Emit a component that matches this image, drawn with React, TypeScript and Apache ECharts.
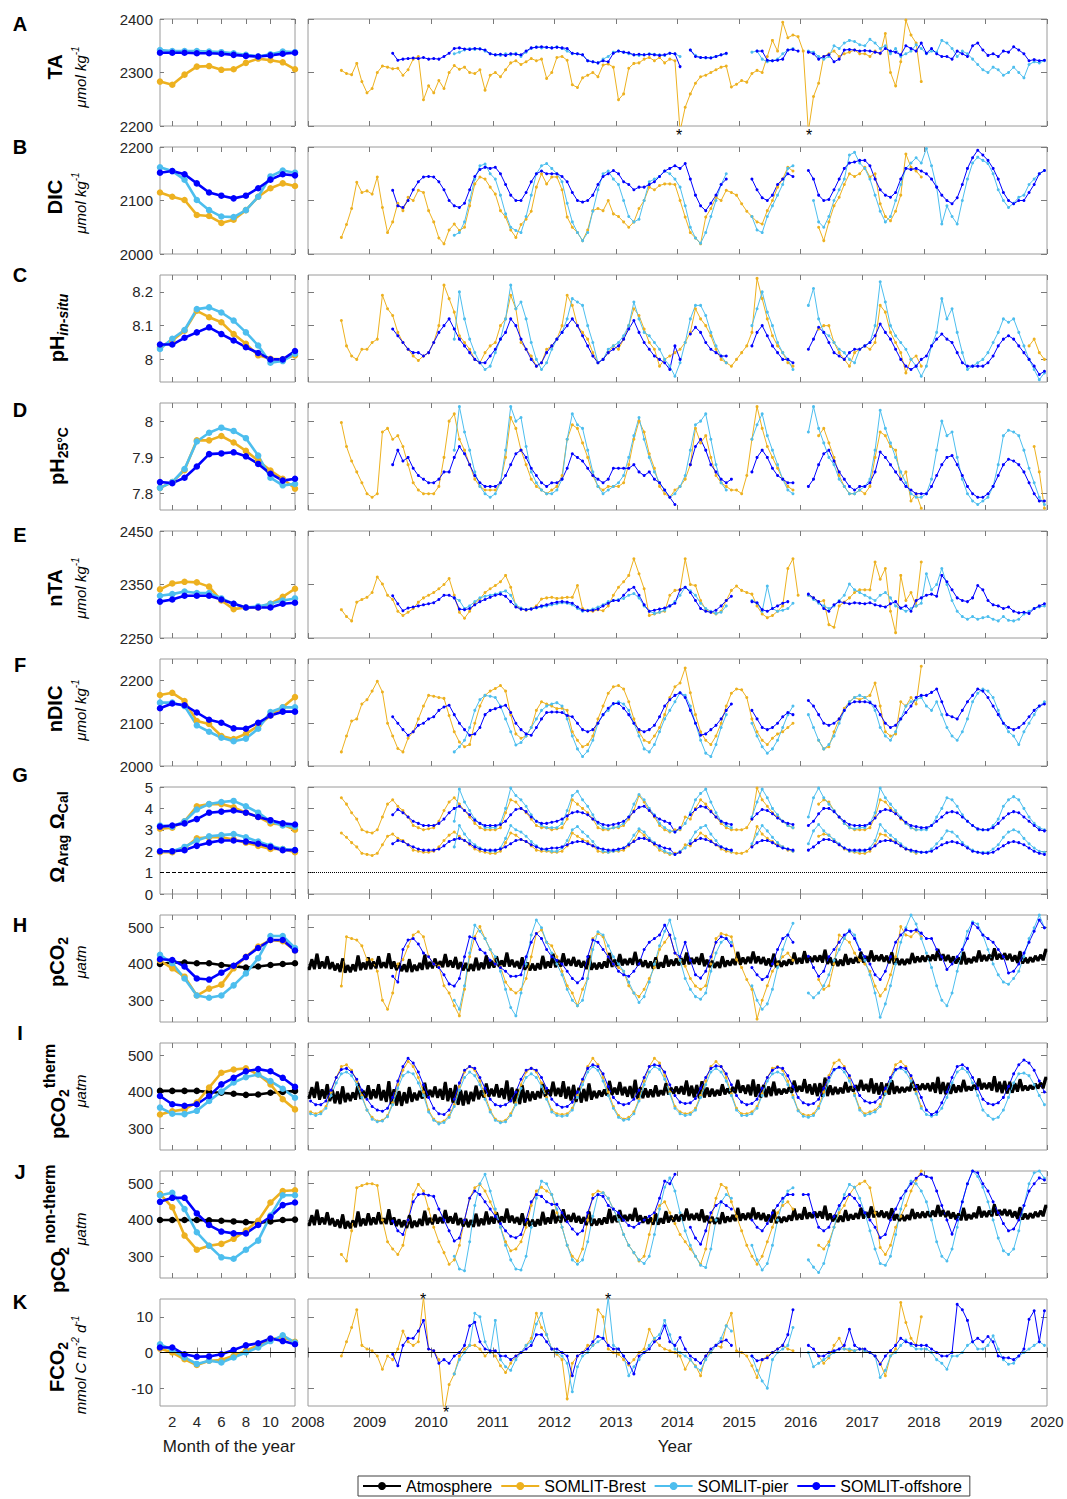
import React, { useEffect, useRef } from "react";
import * as echarts from "echarts";

const _ = null;
const N12 = [_, _, _, _, _, _, _, _, _, _, _, _];

const FONT = "'Liberation Sans', Arial, Helvetica, sans-serif";
const BLACK = "#000000";
const ORANGE = "#EDB120";
const LIGHT = "#4DBEEE";
const BLUE = "#0000FF";
const BOX = "#9a9a9a";
const TICK = "#7a7a7a";

const ATM = "Atmosphere";
const BREST = "SOMLIT-Brest";
const PIER = "SOMLIT-pier";
const OFF = "SOMLIT-offshore";

// x positions
const months = [1, 2, 3, 4, 5, 6, 7, 8, 9, 10, 11, 12];
const monthTicks = [2, 4, 6, 8, 10, 12];
const monthLabels = [2, 4, 6, 8, 10];
const yearTicks = [2008, 2009, 2010, 2011, 2012, 2013, 2014, 2015, 2016, 2017, 2018, 2019, 2020];

// ---------- climatologies (month 1..12) ----------
const taClimBrest = [2283, 2277, 2296, 2311, 2312, 2305, 2306, 2318, 2326, 2323, 2319, 2306];
const taClimPier = [2342, 2340, 2340, 2340, 2339, 2338, 2336, 2333, 2330, 2334, 2339, 2338];
const taClimOff = [2337, 2337, 2337, 2336, 2336, 2335, 2333, 2331, 2330, 2332, 2335, 2337];

const dicClimBrest = [2115, 2107, 2101, 2073, 2071, 2058, 2064, 2082, 2107, 2123, 2132, 2127];
const dicClimPier = [2162, 2155, 2139, 2101, 2082, 2070, 2069, 2082, 2107, 2145, 2156, 2152];
const dicClimOff = [2152, 2155, 2149, 2132, 2115, 2109, 2104, 2109, 2123, 2139, 2149, 2147];

const phClimBrest = [8.036, 8.056, 8.085, 8.144, 8.125, 8.11, 8.075, 8.046, 8.012, 8.002, 8.0, 8.012];
const phClimPier = [8.031, 8.061, 8.087, 8.149, 8.154, 8.139, 8.115, 8.08, 8.041, 7.99, 7.995, 8.017];
const phClimOff = [8.044, 8.044, 8.064, 8.08, 8.095, 8.075, 8.056, 8.036, 8.019, 8.0, 8.0, 8.025];

const p25ClimBrest = [7.816, 7.832, 7.865, 7.947, 7.947, 7.959, 7.941, 7.918, 7.891, 7.864, 7.841, 7.814];
const p25ClimPier = [7.816, 7.832, 7.868, 7.944, 7.968, 7.982, 7.973, 7.953, 7.905, 7.844, 7.823, 7.827];
const p25ClimOff = [7.832, 7.829, 7.844, 7.875, 7.909, 7.911, 7.914, 7.903, 7.882, 7.855, 7.836, 7.841];

const ntaClimBrest = [2341, 2352, 2355, 2354, 2346, 2320, 2304, 2307, 2307, 2314, 2327, 2342];
const ntaClimPier = [2329, 2332, 2337, 2334, 2334, 2324, 2314, 2307, 2309, 2314, 2320, 2324];
const ntaClimOff = [2318, 2322, 2329, 2329, 2329, 2322, 2314, 2307, 2307, 2307, 2314, 2316];

const ndicClimBrest = [2166, 2171, 2152, 2105, 2098, 2070, 2063, 2075, 2094, 2118, 2137, 2161];
const ndicClimPier = [2148, 2148, 2140, 2095, 2080, 2066, 2058, 2064, 2087, 2126, 2137, 2137];
const ndicClimOff = [2135, 2146, 2142, 2125, 2108, 2101, 2088, 2087, 2101, 2118, 2127, 2127];

const calClimBrest = [3.05, 3.1, 3.4, 4.1, 4.2, 4.2, 4.05, 3.8, 3.6, 3.3, 3.25, 3.0];
const calClimPier = [3.2, 3.15, 3.4, 3.95, 4.2, 4.3, 4.35, 4.1, 3.8, 3.4, 3.2, 3.15];
const calClimOff = [3.15, 3.2, 3.3, 3.5, 3.8, 3.85, 3.9, 3.8, 3.6, 3.45, 3.3, 3.25];
const aragClimBrest = [1.95, 1.95, 2.15, 2.6, 2.65, 2.65, 2.55, 2.4, 2.25, 2.1, 2.1, 1.95];
const aragClimPier = [2.0, 2.0, 2.2, 2.5, 2.7, 2.75, 2.8, 2.65, 2.45, 2.25, 2.1, 2.05];
const aragClimOff = [2.0, 2.0, 2.05, 2.25, 2.4, 2.5, 2.5, 2.45, 2.35, 2.2, 2.05, 2.05];

const pco2ClimAtm = [400, 404, 404, 402, 402, 397, 394, 390, 393, 397, 400, 402];
const pco2ClimBrest = [409, 388, 365, 313, 332, 343, 388, 420, 448, 466, 463, 437];
const pco2ClimPier = [425, 402, 360, 313, 307, 313, 341, 374, 416, 477, 477, 444];
const pco2ClimOff = [413, 411, 393, 360, 357, 376, 395, 419, 444, 466, 466, 437];

const thClimAtm = [403, 403, 403, 403, 400, 398, 395, 392, 393, 398, 400, 403];
const thClimBrest = [338, 347, 352, 371, 412, 453, 462, 465, 448, 421, 380, 352];
const thClimPier = [357, 340, 339, 348, 375, 401, 426, 441, 448, 430, 409, 384];
const thClimOff = [389, 366, 362, 366, 389, 421, 439, 457, 463, 457, 439, 414];

const ntClimAtm = [400, 400, 400, 400, 399, 398, 396, 394, 392, 396, 400, 401];
const ntClimBrest = [472, 435, 357, 318, 329, 334, 348, 371, 398, 448, 480, 482];
const ntClimPier = [468, 475, 430, 366, 329, 297, 293, 318, 343, 412, 468, 468];
const ntClimOff = [450, 461, 461, 418, 386, 368, 363, 363, 386, 409, 441, 448];

const fClimBrest = [1.1, 0, -1.9, -3.5, -2.3, -2.1, -0.9, 0.5, 2.0, 3.7, 4.2, 3.0];
const fClimPier = [2.3, 0.7, -1.4, -3.2, -2.3, -2.8, -1.4, 0, 1.4, 3.2, 4.8, 2.8];
const fClimOff = [1.4, 1.4, -0.5, -1.2, -1.1, -0.5, 0.7, 2.0, 2.6, 3.9, 3.2, 2.3];

// ---------- monthly time series, Jan 2008 .. Dec 2019 ----------
// A: TA
const taBrest = [
  _, _, _, _, _, _, 2304, 2298, 2296, 2317, 2283, 2262,
  2270, 2300, 2312, 2310, 2307, 2308, 2295, 2305, 2325, 2330, 2249, 2275,
  2262, 2285, 2270, 2300, 2313, 2306, 2310, 2300, 2298, 2305, 2267, 2295,
  2300, 2292, 2305, 2318, 2322, 2315, 2320, 2326, 2322, 2325, 2289, 2300,
  2328, 2330, 2323, 2277, 2272, 2290, 2295, 2300, 2292, 2314, 2316, 2310,
  2249, 2260, 2308, 2317, 2318, 2325, 2328, 2322, 2328, 2318, 2325, 2322,
  2190, 2235, 2260, 2280, 2292, 2295, 2300, 2305, 2310, 2312, 2273, 2278,
  2285, 2282, 2298, 2304, 2300, 2330, 2360, 2340, 2394, 2365, 2370, 2367,
  2340, 2190, 2255, 2280, 2330, 2335, 2340, 2330, 2335, 2338, 2342, 2335,
  2335, 2330, 2340, 2335, 2373, 2300, 2275, 2320, 2398, 2370, 2355, 2283,
  ...N12,
  ...N12,
];
const taPier = [
  ...N12,
  ...N12,
  _, _, _, _, 2335, 2338, 2342, 2345, 2343, 2345, 2340, 2335,
  2333, 2332, 2335, 2333, 2336, 2330, 2338, 2345, 2348, 2346, 2347, 2346,
  2348, 2345, 2340, 2335, 2335, 2333, 2322, 2320, 2318, 2325, 2330, 2338,
  2340, 2338, 2335, 2333, 2332, 2333, 2335, 2334, 2333, 2332, 2336, 2335,
  2330, _, 2342, 2332, 2328, 2327, 2328, 2330, 2333, 2335, _, _,
  _, _, 2338, 2340, 2325, 2320, 2322, 2325, 2335, 2342, 2345, _,
  _, 2340, 2338, 2330, 2325, 2330, 2350, 2345, 2355, 2360, 2358, 2352,
  2350, 2362, 2355, 2345, 2350, 2335, 2345, 2330, 2335, 2340, 2352, 2345,
  2335, 2340, 2338, 2360, 2355, 2345, 2330, 2340, 2335, 2325, 2315, 2305,
  2300, 2310, 2305, 2295, 2300, 2310, 2300, 2290, 2315, 2320, 2318, 2322,
];
const taOff = [
  ...N12,
  _, _, _, _, 2336, 2323, 2325, 2326, 2327, 2326, 2328, 2325,
  2326, 2325, 2330, 2336, 2345, 2346, 2344, 2343, 2345, 2344, 2342, 2335,
  2333, 2334, 2332, 2335, 2334, 2333, 2340, 2346, 2347, 2348, 2347, 2346,
  2347, 2346, 2345, 2336, 2335, 2333, 2322, 2320, 2318, 2322, 2320, 2336,
  2340, 2338, 2337, 2333, 2334, 2333, 2334, 2333, 2332, 2333, 2336, 2335,
  2311, _, 2342, 2330, 2328, 2328, 2327, 2330, 2333, 2336, _, _,
  _, _, _, 2340, 2340, 2323, 2322, 2323, 2325, 2342, 2343, 2340,
  _, 2338, 2335, 2325, 2330, 2333, 2320, 2325, 2342, 2343, 2342, 2340,
  2341, 2340, 2338, 2336, 2345, 2340, 2338, 2333, 2350, 2345, 2340, 2355,
  2336, 2345, 2335, 2330, 2330, 2325, 2340, 2335, 2330, 2350, 2355, 2342,
  2332, 2335, 2330, 2340, 2338, 2348, 2342, 2335, 2322, 2324, 2322, 2323,
];

// B: DIC
const dicBrest = [
  _, _, _, _, _, _, 2031, 2055, 2085, 2134, 2115, 2118,
  2112, 2144, 2087, 2040, 2060, 2095, 2081, 2106, 2100, 2119, 2115, 2081,
  2060, 2030, 2019, 2045, 2056, 2044, 2050, 2090, 2131, 2144, 2140, 2125,
  2112, 2081, 2069, 2045, 2031, 2055, 2065, 2080, 2125, 2150, 2131, 2144,
  2144, 2120, 2069, 2050, 2040, 2025, 2045, 2081, 2085, 2081, 2100, 2075,
  2070, 2060, 2050, 2060, 2085, 2100, 2125, 2120, 2128, 2131, 2131, 2130,
  2100, 2069, 2040, 2030, 2019, 2069, 2085, 2106, 2100, 2119, 2115, 2110,
  2094, 2080, 2070, 2060, 2056, 2081, 2100, 2125, 2140, 2162, 2155, _,
  _, _, _, 2050, 2025, 2060, 2090, 2106, 2130, 2150, 2145, 2150,
  2162, 2144, 2150, 2094, 2070, 2062, 2080, 2110, 2187, 2162, 2155, 2144,
  ...N12,
  ...N12,
];
const dicPier = [
  ...N12,
  ...N12,
  _, _, _, _, 2035, 2040, 2060, 2100, 2140, 2165, 2168, 2150,
  2140, 2110, 2075, 2050, 2044, 2040, 2070, 2110, 2150, 2165, 2169, 2160,
  2150, 2135, 2095, 2060, 2040, 2025, 2040, 2080, 2120, 2150, 2155, 2140,
  2130, 2100, 2070, 2060, 2065, 2100, 2135, 2140, 2145, 2155, 2150, 2140,
  2125, 2090, 2050, 2030, 2020, 2040, 2070, 2100, 2130, 2150, _, _,
  _, _, 2070, 2045, 2040, 2070, 2090, 2110, 2130, 2160, 2165, _,
  _, _, 2100, 2060, 2050, 2070, 2100, 2120, 2140, 2185, 2190, 2170,
  2160, 2140, 2110, 2080, 2060, 2070, 2100, 2130, 2160, 2170, 2180, 2170,
  2197, 2165, 2125, 2056, 2090, 2070, 2056, 2100, 2140, 2170, 2181, 2175,
  2169, 2150, 2120, 2100, 2087, 2095, 2106, 2110, 2130, 2140, 2150, 2156,
];
const dicOff = [
  ...N12,
  _, _, _, _, 2119, 2090, 2087, 2100, 2120, 2135, 2144, 2145,
  2144, 2135, 2120, 2100, 2090, 2087, 2095, 2120, 2145, 2158, 2162, 2160,
  2162, 2150, 2130, 2110, 2100, 2100, 2115, 2135, 2150, 2155, 2150, 2150,
  2150, 2145, 2135, 2115, 2100, 2097, 2100, 2110, 2130, 2145, 2150, 2156,
  2150, 2135, 2130, 2120, 2125, 2125, 2130, 2135, 2145, 2155, 2160, 2165,
  2160, 2169, 2140, 2110, 2090, 2081, 2095, 2110, 2130, 2140, _, _,
  _, _, 2140, 2120, 2105, 2100, 2110, 2130, 2140, 2150, 2145, _,
  _, 2156, 2140, 2110, 2100, 2102, 2120, 2140, 2160, 2170, 2172, 2175,
  2175, 2165, 2140, 2120, 2110, 2106, 2115, 2140, 2160, 2158, 2160, 2155,
  2150, 2140, 2125, 2110, 2100, 2094, 2105, 2130, 2160, 2180, 2194, 2185,
  2175, 2160, 2140, 2115, 2100, 2094, 2100, 2100, 2115, 2130, 2150, 2156,
];

// C: pH in situ
const phBrest = [
  _, _, _, _, _, _, 8.115, 8.04, 8.01, 8.0, 8.03, 8.03,
  8.05, 8.06, 8.19, 8.15, 8.13, 8.08, 8.05, 8.03, 8.01, 7.997, 8.01, 8.02,
  8.05, 8.1, 8.22, 8.18, 8.14, 8.07, 8.05, 8.03, 8.0, 7.99, 8.02, 8.04,
  8.05, 8.1, 8.12, 8.19, 8.15, 8.05, 8.03, 8.01, 7.98, 7.99, 8.03, 8.04,
  8.06, 8.1, 8.19, 8.16, 8.1, 8.08, 8.06, 8.02, 7.99, 8.0, 8.02, 8.04,
  8.03, 8.06, 8.1, 8.15, 8.13, 8.09, 8.05, 8.03, 7.98, 8.0, 8.01, 8.02,
  8.03, 8.05, 8.08, 8.15, 8.12, 8.1, 8.07, 8.03, 8.0, 7.99, 7.98, 8.0,
  8.02, 8.04, 8.08, 8.24, 8.18, 8.12, 8.07, 8.04, 8.02, 7.99, 7.98, _,
  _, _, _, 8.09, 8.1, 8.1, 8.05, 8.02, 8.0, 7.98, 8.02, 8.03,
  8.04, 8.03, 8.05, 8.16, 8.14, 8.08, 8.05, 8.02, 7.96, 8.0, 8.01, 7.98,
  ...N12,
  _, _, _, _, _, _, _, _, 8.04, 8.06, 8.02, 8.0,
];
const phPier = [
  ...N12,
  ...N12,
  _, _, _, _, 8.06, 8.2, 8.12, 8.06, 8.02, 7.99, 7.97, 7.98,
  8.02, 8.06, 8.12, 8.22, 8.15, 8.17, 8.12, 8.05, 8.0, 7.97, 7.99, 8.03,
  8.06, 8.08, 8.12, 8.18, 8.17, 8.16, 8.1, 8.05, 7.99, 8.0, 8.03, 8.04,
  8.05, 8.07, 8.1, 8.17, 8.12, 8.08, 8.07, 8.05, 8.03, 8.0, 7.98, 7.95,
  7.99, 8.05, 8.12, 8.16, 8.16, 8.13, 8.08, 8.04, 8.01, 7.99, _, _,
  _, _, 8.1, 8.15, 8.2, 8.14, 8.1, 8.05, 8.02, 8.0, 7.97, _,
  _, 8.16, 8.21, 8.12, 8.08, 8.07, 8.05, 8.03, 8.02, 8.0, 7.99, 8.03,
  8.04, 8.05, 8.1, 8.23, 8.17, 8.1, 8.07, 8.05, 8.03, 8.0, 7.98, 7.95,
  7.98, 8.04, 8.08, 8.18, 8.12, 8.15, 8.08, 8.02, 7.97, 7.98, 7.99, 8.0,
  8.02, 8.05, 8.08, 8.12, 8.11, 8.12, 8.08, 8.04, 8.0, 7.97, 7.94, 7.96,
];
const phOff = [
  ...N12,
  _, _, _, _, 8.09, 8.07, 8.05, 8.03, 8.02, 8.02, 8.01, 8.02,
  8.05, 8.08, 8.1, 8.12, 8.09, 8.06, 8.04, 8.02, 8.0, 7.99, 7.99, 8.01,
  8.03, 8.06, 8.08, 8.12, 8.1, 8.06, 8.03, 8.0, 7.98, 7.99, 8.02, 8.04,
  8.06, 8.08, 8.1, 8.12, 8.1, 8.07, 8.04, 8.01, 7.99, 8.0, 8.02, 8.03,
  8.04, 8.06, 8.09, 8.115, 8.08, 8.05, 8.03, 8.01, 8.0, 7.99, 7.97, 8.04,
  8.0, _, 8.075, 8.095, 8.08, 8.05, 8.03, 8.02, 8.01, 8.01, _, _,
  _, _, 8.04, 8.08, 8.1, 8.07, 8.04, 8.02, 8.0, 8.0, 7.99, _,
  _, 8.03, 8.06, 8.095, 8.08, 8.05, 8.02, 8.01, 8.0, 8.02, 8.03, 8.03,
  8.04, 8.05, 8.07, 8.105, 8.08, 8.06, 8.03, 8.0, 7.98, 7.97, 7.98, 8.0,
  8.01, 8.04, 8.06, 8.075, 8.06, 8.05, 8.02, 7.99, 7.98, 7.98, 7.98, 7.98,
  7.99, 8.01, 8.04, 8.06, 8.07, 8.06, 8.04, 8.02, 8.0, 7.98, 7.955, 7.965,
];

// D: pH at 25 °C
const p25Brest = [
  _, _, _, _, _, _, 7.996, 7.93, 7.89, 7.86, 7.83, 7.8,
  7.79, 7.8, 7.97, 7.98, 7.95, 7.96, 7.93, 7.88, 7.83, 7.81, 7.8, 7.8,
  7.8, 7.82, 7.9, 8.0, 8.02, 7.95, 7.92, 7.88, 7.84, 7.82, 7.81, 7.81,
  7.81, 7.83, 7.9, 8.01, 7.98, 7.92, 7.88, 7.84, 7.82, 7.81, 7.8, 7.81,
  7.82, 7.85, 7.95, 7.99, 7.98, 7.94, 7.9, 7.85, 7.82, 7.81, 7.82, 7.82,
  7.82, 7.83, 7.88, 7.95, 8.0, 7.97, 7.91, 7.87, 7.82, 7.8, 7.79, 7.81,
  7.82, 7.84, 7.88, 7.98, 7.94, 7.96, 7.9, 7.85, 7.83, 7.82, 7.81, 7.81,
  7.8, 7.85, 7.95, 8.04, 7.98, 7.93, 7.9, 7.87, 7.84, 7.82, 7.81, _,
  _, _, _, 7.96, 7.98, 7.94, 7.9, 7.85, 7.82, 7.8, 7.8, 7.81,
  7.8, 7.82, 7.9, 7.97, 7.96, 7.93, 7.92, 7.84, 7.86, 7.78, 7.8, 7.76,
  ...N12,
  _, _, _, _, _, _, _, _, _, 7.93, 7.86, 7.76,
];
const p25Pier = [
  ...N12,
  ...N12,
  _, _, _, _, 7.92, 8.04, 7.97, 7.92, 7.86, 7.82, 7.8, 7.79,
  7.8, 7.83, 7.92, 8.04, 8.0, 8.01, 7.93, 7.86, 7.83, 7.81, 7.8, 7.8,
  7.81, 7.84, 7.95, 8.02, 7.99, 7.98, 7.92, 7.86, 7.82, 7.8, 7.81, 7.82,
  7.83, 7.85, 7.9, 7.96, 8.01, 7.95, 7.9, 7.86, 7.83, 7.81, 7.79, 7.8,
  7.82, 7.85, 7.92, 7.99, 8.0, 8.02, 7.95, 7.88, 7.83, 7.81, _, _,
  _, _, 7.95, 7.99, 8.02, 7.96, 7.92, 7.88, 7.84, 7.81, 7.8, _,
  _, 7.97, 8.04, 7.98, 7.94, 7.9, 7.88, 7.84, 7.82, 7.8, 7.8, 7.81,
  7.82, 7.84, 7.92, 8.03, 7.98, 7.94, 7.9, 7.86, 7.83, 7.8, 7.79, 7.79,
  7.8, 7.84, 7.92, 8.0, 7.96, 7.97, 7.9, 7.84, 7.8, 7.78, 7.77, 7.78,
  7.79, 7.82, 7.88, 7.96, 7.975, 7.97, 7.96, 7.92, 7.87, 7.83, 7.79, 7.77,
];
const p25Off = [
  ...N12,
  _, _, _, _, 7.88, 7.92, 7.89, 7.9, 7.87, 7.85, 7.84, 7.83,
  7.83, 7.84, 7.86, 7.86, 7.9, 7.93, 7.91, 7.88, 7.85, 7.83, 7.82, 7.82,
  7.82, 7.83, 7.85, 7.88, 7.91, 7.92, 7.9, 7.87, 7.85, 7.83, 7.82, 7.83,
  7.83, 7.84, 7.87, 7.91, 7.9, 7.89, 7.87, 7.85, 7.84, 7.83, 7.84, 7.87,
  7.87, 7.87, 7.87, 7.88, 7.86, 7.85, 7.86, 7.84, 7.83, 7.81, 7.79, 7.77,
  _, _, 7.88, 7.93, 7.95, 7.92, 7.88, 7.86, 7.84, 7.83, 7.84, _,
  _, _, 7.86, 7.9, 7.92, 7.9, 7.87, 7.85, 7.84, 7.83, 7.83, _,
  _, 7.82, 7.84, 7.88, 7.91, 7.92, 7.89, 7.86, 7.84, 7.82, 7.81, 7.82,
  7.82, 7.83, 7.86, 7.915, 7.9, 7.88, 7.86, 7.84, 7.82, 7.81, 7.8, 7.8,
  7.8, 7.82, 7.85, 7.88, 7.9, 7.905, 7.88, 7.85, 7.82, 7.8, 7.79, 7.79,
  7.8, 7.82, 7.85, 7.88, 7.895, 7.89, 7.88, 7.86, 7.83, 7.8, 7.78, 7.78,
];

// E: nTA
const ntaBrest = [
  _, _, _, _, _, _, 2303, 2290, 2282, 2317, 2322, 2326,
  2335, 2364, 2351, 2330, 2322, 2300, 2292, 2298, 2305, 2317, 2325, 2330,
  2335, 2342, 2350, 2361, 2330, 2298, 2287, 2300, 2315, 2323, 2335, 2342,
  2348, 2355, 2367, 2345, 2310, 2305, 2302, 2305, 2310, 2323, 2325, 2326,
  2324, 2325, 2326, 2326, 2348, 2305, 2301, 2300, 2303, 2301, 2310, 2330,
  2345, 2355, 2367, 2398, 2370, 2342, 2292, 2295, 2298, 2300, 2330, 2339,
  2340, 2398, 2350, 2348, 2320, 2303, 2298, 2295, 2300, 2320, 2339, 2347,
  2339, 2335, 2332, 2310, 2295, 2288, 2292, 2300, 2310, 2380, 2398, 2330,
  _, 2330, 2325, 2317, 2320, 2275, 2270, 2310, 2317, 2325, 2335, 2340,
  2340, 2340, 2392, 2360, 2380, 2300, 2260, 2367, 2320, 2335, 2310, 2392,
  ...N12,
  ...N12,
];
const ntaPier = [
  ...N12,
  ...N12,
  _, _, _, _, 2325, 2320, 2305, 2310, 2318, 2325, 2328, 2330,
  2332, 2335, 2338, 2330, 2312, 2306, 2303, 2305, 2306, 2308, 2310, 2312,
  2314, 2316, 2315, 2312, 2305, 2300, 2302, 2304, 2308, 2312, 2318, 2320,
  2322, 2324, 2330, 2333, 2325, 2310, 2300, 2296, 2298, 2302, 2310, 2318,
  2330, 2345, 2338, 2330, 2315, 2305, 2300, 2296, 2298, 2310, _, _,
  _, _, 2320, 2315, 2300, 2347, 2305, 2300, 2302, 2305, 2315, _,
  _, 2330, 2322, 2315, 2310, 2305, 2310, 2320, 2330, 2351, 2340, 2335,
  2330, 2325, 2320, 2330, 2335, 2325, 2310, 2305, 2300, 2305, 2310, 2315,
  2370, 2340, 2350, 2380, 2350, 2320, 2300, 2290, 2285, 2290, 2285, 2288,
  2290, 2285, 2282, 2290, 2283, 2282, 2285, 2295, 2300, 2305, 2308, 2310,
];
const ntaOff = [
  ...N12,
  _, _, _, _, 2329, 2314, 2301, 2306, 2308, 2310, 2312, 2314,
  2316, 2322, 2330, 2330, 2325, 2304, 2303, 2305, 2312, 2318, 2322, 2326,
  2330, 2332, 2328, 2318, 2308, 2304, 2303, 2304, 2307, 2310, 2312, 2315,
  2317, 2318, 2317, 2315, 2308, 2302, 2301, 2302, 2304, 2310, 2315, 2320,
  2320, 2330, 2340, 2345, 2330, 2312, 2300, 2302, 2304, 2306, 2310, 2315,
  2340, 2345, 2335, 2320, 2305, 2300, 2298, 2302, 2310, 2320, 2328, _,
  _, _, 2318, 2316, 2303, 2300, 2305, 2310, 2315, 2318, _, _,
  _, 2332, 2325, 2318, 2305, 2300, 2312, 2318, 2316, 2314, 2316, 2315,
  2314, 2316, 2312, 2310, 2308, 2314, 2318, 2306, 2310, 2300, 2320, 2325,
  2330, 2332, 2328, 2367, 2355, 2340, 2325, 2320, 2318, 2325, 2348, 2340,
  2320, 2312, 2310, 2305, 2308, 2300, 2297, 2298, 2296, 2305, 2310, 2314,
];

// F: nDIC
const ndicBrest = [
  _, _, _, _, _, _, 2033, 2070, 2105, 2110, 2145, 2155,
  2175, 2198, 2173, 2100, 2070, 2041, 2033, 2065, 2080, 2110, 2140, 2165,
  2163, 2160, 2158, 2118, 2080, 2056, 2045, 2050, 2100, 2140, 2165, 2175,
  2181, 2188, 2175, 2120, 2075, 2065, 2070, 2090, 2130, 2150, 2145, 2140,
  2134, 2135, 2130, 2080, 2060, 2045, 2050, 2070, 2110, 2140, 2170, 2185,
  2188, 2180, 2150, 2110, 2080, 2060, 2055, 2070, 2090, 2120, 2160, 2185,
  2194, 2229, 2171, 2120, 2080, 2060, 2050, 2070, 2100, 2140, 2170, 2180,
  2178, 2160, 2110, 2080, 2060, 2050, 2065, 2075, 2080, 2090, 2100, _,
  _, _, _, 2060, 2040, 2045, 2080, 2110, 2135, 2150, 2160, 2155,
  2160, 2165, 2194, 2140, 2080, 2070, 2075, 2150, 2140, 2160, 2145, 2233,
  ...N12,
  ...N12,
];
const ndicPier = [
  ...N12,
  ...N12,
  _, _, _, _, 2033, 2045, 2060, 2090, 2130, 2155, 2165, 2163,
  2160, 2140, 2110, 2080, 2049, 2055, 2070, 2090, 2110, 2130, 2140, 2145,
  2148, 2140, 2110, 2070, 2040, 2022, 2035, 2060, 2100, 2120, 2130, 2145,
  2150, 2145, 2130, 2100, 2070, 2040, 2033, 2050, 2080, 2110, 2130, 2150,
  2171, 2165, 2140, 2100, 2060, 2030, 2022, 2050, 2090, 2120, _, _,
  _, _, 2100, 2070, 2045, 2030, 2040, 2060, 2090, 2120, 2140, _,
  _, 2120, 2090, 2060, 2040, 2050, 2070, 2100, 2130, 2150, 2160, 2165,
  2160, 2150, 2130, 2090, 2070, 2060, 2080, 2110, 2140, 2150, 2155, 2160,
  2140, 2130, 2150, 2120, 2090, 2070, 2060, 2080, 2110, 2150, 2170, 2180,
  2175, 2160, 2130, 2100, 2080, 2070, 2050, 2080, 2100, 2120, 2140, 2150,
];
const ndicOff = [
  ...N12,
  _, _, _, _, 2115, 2100, 2085, 2072, 2080, 2095, 2100, 2110,
  2115, 2130, 2138, 2142, 2120, 2100, 2085, 2072, 2075, 2090, 2120, 2130,
  2134, 2138, 2142, 2125, 2100, 2085, 2075, 2072, 2090, 2110, 2125, 2126,
  2126, 2125, 2118, 2115, 2100, 2085, 2080, 2085, 2100, 2120, 2135, 2146,
  2146, 2135, 2120, 2100, 2085, 2080, 2085, 2095, 2115, 2140, 2155, 2165,
  2171, 2160, 2130, 2100, 2072, 2075, 2085, 2095, 2110, 2130, 2145, _,
  _, _, 2130, 2110, 2090, 2085, 2090, 2100, 2115, 2125, 2120, _,
  _, 2153, 2140, 2120, 2100, 2095, 2100, 2110, 2130, 2145, 2150, 2150,
  2150, 2148, 2140, 2120, 2100, 2090, 2095, 2110, 2125, 2140, 2160, 2165,
  2165, 2172, 2180, 2150, 2120, 2115, 2110, 2130, 2150, 2165, 2180, 2175,
  2160, 2140, 2120, 2100, 2090, 2085, 2090, 2100, 2115, 2130, 2140, 2145,
];

// G: saturation states (calcite upper band, aragonite lower band)
const calBrest = [
  _, _, _, _, _, _, 4.5, 4.2, 3.8, 3.5, 3.0, 2.9,
  2.85, 3.0, 3.6, 4.2, 4.4, 4.1, 3.9, 3.6, 3.2, 3.1, 3.0, 3.05,
  3.1, 3.4, 3.9, 4.3, 4.5, 4.2, 3.9, 3.6, 3.3, 3.1, 3.0, 3.0,
  3.0, 3.1, 3.8, 4.4, 4.3, 4.0, 3.8, 3.5, 3.2, 3.1, 3.1, 3.0,
  3.05, 3.1, 3.5, 4.4, 4.2, 4.0, 3.8, 3.5, 3.1, 3.0, 3.0, 3.1,
  3.1, 3.2, 3.5, 3.9, 4.6, 4.3, 3.9, 3.6, 3.2, 3.0, 2.9, 3.0,
  3.0, 3.6, 3.5, 4.0, 4.4, 4.2, 3.9, 3.6, 3.3, 3.1, 3.0, 3.0,
  3.0, 3.1, 3.5, 4.95, 4.4, 4.1, 3.8, 3.6, 3.4, 3.2, 3.1, _,
  _, _, _, 4.2, 4.4, 4.3, 3.9, 3.6, 3.3, 3.1, 3.0, 3.0,
  3.0, 3.1, 3.6, 4.4, 4.3, 4.0, 3.8, 3.5, 3.3, 3.1, 3.0, _,
  ...N12,
  ...N12,
];
const calPier = [
  ...N12,
  ...N12,
  _, _, _, _, 3.4, 4.9, 4.3, 3.9, 3.5, 3.3, 3.1, 3.1,
  3.1, 3.3, 4.0, 4.95, 4.6, 4.4, 4.1, 3.7, 3.4, 3.2, 3.1, 3.1,
  3.1, 3.3, 3.9, 4.6, 4.8, 4.4, 4.1, 3.7, 3.3, 3.1, 3.05, 3.1,
  3.15, 3.3, 3.6, 4.2, 4.65, 4.4, 4.0, 3.7, 3.3, 3.1, 2.95, 2.9,
  3.05, 3.3, 3.8, 4.4, 4.7, 4.9, 4.3, 3.8, 3.4, 3.2, 3.1, _,
  _, _, 3.6, 4.3, 4.9, 4.5, 4.0, 3.7, 3.4, 3.2, 3.1, _,
  _, 3.6, 4.5, 4.95, 4.5, 4.2, 3.9, 3.6, 3.3, 3.1, 3.05, 3.1,
  3.1, 3.3, 3.8, 4.95, 4.5, 4.2, 3.9, 3.6, 3.3, 3.1, 3.0, 3.0,
  3.0, 3.2, 3.6, 4.0, 4.5, 4.4, 4.1, 3.7, 3.4, 3.2, 3.0, 3.0,
  3.0, 3.2, 3.5, 4.1, 4.4, 4.55, 4.4, 4.0, 3.6, 3.3, 3.1, 3.0,
];
const calOff = [
  ...N12,
  _, _, _, _, 3.7, 3.95, 3.8, 3.6, 3.4, 3.3, 3.2, 3.2,
  3.2, 3.3, 3.5, 3.8, 4.0, 4.1, 3.9, 3.7, 3.45, 3.3, 3.2, 3.2,
  3.2, 3.25, 3.4, 3.7, 3.95, 4.0, 3.85, 3.6, 3.4, 3.3, 3.3, 3.35,
  3.4, 3.5, 3.65, 3.8, 3.85, 3.8, 3.7, 3.5, 3.35, 3.25, 3.2, 3.25,
  3.3, 3.4, 3.6, 3.85, 4.05, 4.1, 3.9, 3.65, 3.5, 3.4, 3.3, 2.9,
  3.1, _, 3.7, 3.95, 4.1, 4.05, 3.85, 3.6, 3.4, 3.3, 3.25, _,
  _, _, 3.5, 3.75, 3.95, 3.9, 3.75, 3.55, 3.4, 3.3, 3.25, _,
  _, 3.2, 3.4, 3.75, 4.0, 4.0, 3.85, 3.6, 3.4, 3.25, 3.2, 3.2,
  3.2, 3.3, 3.55, 3.85, 3.95, 3.9, 3.75, 3.55, 3.35, 3.2, 3.15, 3.1,
  3.1, 3.2, 3.4, 3.6, 3.8, 3.85, 3.8, 3.6, 3.4, 3.2, 3.05, 3.0,
  3.0, 3.1, 3.3, 3.55, 3.75, 3.85, 3.8, 3.6, 3.4, 3.2, 3.0, 2.95,
];
const aragBrest = [
  _, _, _, _, _, _, 2.85, 2.65, 2.4, 2.2, 1.9, 1.85,
  1.8, 1.9, 2.3, 2.7, 2.8, 2.6, 2.5, 2.3, 2.05, 2.0, 1.95, 1.95,
  2.0, 2.2, 2.5, 2.75, 2.9, 2.7, 2.5, 2.3, 2.1, 2.0, 1.95, 1.9,
  1.9, 2.0, 2.4, 2.85, 2.75, 2.55, 2.45, 2.25, 2.05, 2.0, 2.0, 1.95,
  1.95, 2.0, 2.25, 2.85, 2.7, 2.55, 2.45, 2.25, 2.0, 1.95, 1.95, 2.0,
  2.0, 2.05, 2.25, 2.5, 2.95, 2.75, 2.5, 2.3, 2.05, 1.95, 1.85, 1.9,
  1.95, 2.3, 2.25, 2.55, 2.85, 2.7, 2.5, 2.3, 2.1, 2.0, 1.95, 1.9,
  1.9, 2.0, 2.25, 3.15, 2.8, 2.6, 2.45, 2.3, 2.2, 2.05, 2.0, _,
  _, _, _, 2.7, 2.8, 2.75, 2.5, 2.3, 2.1, 2.0, 1.95, 1.9,
  1.9, 2.0, 2.3, 2.8, 2.75, 2.55, 2.45, 2.25, 2.1, 2.0, 1.9, _,
  ...N12,
  ...N12,
];
const aragPier = [
  ...N12,
  ...N12,
  _, _, _, _, 2.2, 3.2, 2.8, 2.5, 2.3, 2.15, 2.05, 2.0,
  2.0, 2.15, 2.6, 3.2, 3.0, 2.9, 2.7, 2.45, 2.25, 2.1, 2.05, 2.0,
  2.0, 2.15, 2.5, 3.0, 3.15, 2.9, 2.7, 2.45, 2.15, 2.0, 1.95, 2.0,
  2.05, 2.15, 2.35, 2.75, 3.05, 2.9, 2.6, 2.4, 2.15, 2.0, 1.9, 1.85,
  2.0, 2.15, 2.5, 2.9, 3.1, 3.2, 2.8, 2.5, 2.2, 2.1, 2.0, _,
  _, _, 2.35, 2.8, 3.2, 2.95, 2.65, 2.4, 2.2, 2.1, 2.0, _,
  _, 2.35, 2.95, 3.25, 2.95, 2.75, 2.55, 2.35, 2.15, 2.0, 2.0, 2.0,
  2.0, 2.15, 2.5, 3.25, 2.95, 2.75, 2.55, 2.35, 2.15, 2.0, 1.95, 1.95,
  1.95, 2.1, 2.35, 2.6, 2.95, 2.9, 2.7, 2.4, 2.2, 2.05, 1.95, 1.95,
  1.95, 2.1, 2.3, 2.65, 2.9, 3.0, 2.9, 2.6, 2.35, 2.15, 2.0, 1.95,
];
const aragOff = [
  ...N12,
  _, _, _, _, 2.35, 2.5, 2.45, 2.3, 2.2, 2.1, 2.05, 2.05,
  2.05, 2.1, 2.25, 2.45, 2.55, 2.6, 2.5, 2.35, 2.2, 2.1, 2.05, 2.05,
  2.05, 2.1, 2.2, 2.35, 2.5, 2.55, 2.45, 2.3, 2.2, 2.1, 2.1, 2.15,
  2.15, 2.2, 2.3, 2.4, 2.45, 2.45, 2.35, 2.25, 2.15, 2.1, 2.05, 2.05,
  2.1, 2.15, 2.3, 2.45, 2.6, 2.6, 2.5, 2.35, 2.25, 2.15, 2.1, 1.85,
  1.95, _, 2.35, 2.5, 2.6, 2.55, 2.45, 2.3, 2.2, 2.1, 2.05, _,
  _, _, 2.2, 2.4, 2.5, 2.5, 2.4, 2.25, 2.15, 2.1, 2.05, _,
  _, 2.05, 2.2, 2.4, 2.55, 2.55, 2.45, 2.3, 2.15, 2.05, 2.05, 2.05,
  2.05, 2.1, 2.25, 2.45, 2.5, 2.5, 2.4, 2.25, 2.1, 2.05, 2.0, 1.95,
  1.95, 2.0, 2.15, 2.3, 2.4, 2.45, 2.4, 2.3, 2.15, 2.0, 1.95, 1.9,
  1.9, 1.95, 2.1, 2.25, 2.4, 2.45, 2.4, 2.3, 2.15, 2.0, 1.9, 1.85,
];

// Atmosphere: lower edge and upper spikes of the monthly band (µatm)
const atmBase = [
  387, 389, 390, 391, 389, 385, 381, 379, 380, 383, 386, 388,
  389, 391, 392, 392, 390, 386, 383, 381, 381, 384, 387, 389,
  391, 393, 394, 395, 393, 389, 385, 383, 384, 386, 389, 391,
  393, 395, 396, 396, 394, 390, 387, 385, 385, 388, 391, 393,
  394, 396, 398, 398, 396, 393, 389, 387, 388, 390, 393, 395,
  397, 399, 400, 401, 399, 395, 392, 390, 390, 393, 396, 398,
  399, 401, 402, 403, 401, 397, 394, 392, 392, 395, 398, 400,
  401, 403, 405, 405, 403, 399, 396, 394, 395, 398, 401, 403,
  404, 406, 408, 409, 407, 403, 399, 397, 398, 401, 404, 406,
  407, 409, 410, 411, 409, 405, 402, 400, 400, 403, 406, 408,
  409, 411, 412, 413, 411, 407, 404, 402, 402, 405, 408, 410,
  411, 413, 415, 416, 414, 410, 406, 404, 405, 408, 411, 413,
];
const atmPeak = [
  410, 425, 404, 418, 402, 398, 412, 394, 396, 420, 401, 415,
  404, 418, 402, 426, 404, 399, 396, 410, 395, 400, 422, 403,
  412, 405, 424, 407, 416, 402, 400, 397, 414, 401, 420, 406,
  418, 407, 428, 409, 405, 415, 401, 398, 399, 419, 404, 425,
  408, 426, 411, 416, 408, 405, 420, 400, 401, 404, 427, 409,
  424, 411, 413, 430, 410, 407, 404, 415, 402, 421, 409, 412,
  413, 428, 414, 416, 426, 409, 406, 403, 418, 407, 411, 430,
  415, 417, 431, 418, 416, 412, 425, 406, 406, 410, 428, 414,
  432, 418, 420, 421, 436, 415, 411, 409, 424, 413, 416, 430,
  419, 434, 421, 423, 420, 429, 413, 411, 411, 427, 418, 420,
  421, 423, 438, 424, 422, 418, 415, 430, 413, 417, 434, 422,
  423, 440, 425, 427, 425, 421, 432, 415, 416, 420, 423, 438,
];
const atmBaseTherm = [
  385, 387, 382, 385, 378, 372, 370, 375, 378, 382, 384, 386,
  383, 386, 380, 376, 370, 366, 365, 372, 376, 380, 385, 387,
  389, 387, 382, 378, 374, 368, 366, 370, 378, 383, 388, 390,
  391, 388, 384, 378, 372, 370, 374, 378, 382, 386, 390, 392,
  392, 390, 385, 380, 376, 374, 378, 382, 386, 390, 393, 395,
  396, 394, 390, 386, 384, 386, 388, 389, 391, 394, 396, 398,
  398, 396, 392, 388, 386, 388, 390, 391, 393, 396, 398, 400,
  401, 398, 394, 390, 388, 389, 392, 394, 396, 399, 401, 403,
  404, 400, 396, 392, 390, 392, 395, 397, 399, 402, 404, 406,
  407, 403, 399, 396, 394, 396, 398, 400, 402, 405, 407, 408,
  409, 405, 401, 398, 397, 398, 401, 403, 405, 407, 409, 410,
  411, 407, 403, 400, 399, 401, 404, 406, 407, 410, 412, 413,
];

// H: pCO2
const pco2Brest = [
  _, _, _, _, _, _, 339, 475, 470, 466, 450, 412,
  412, 380, 300, 275, 320, 400, 412, 448, 480, 489, 475, 421,
  400, 394, 340, 320, 285, 257, 330, 420, 475, 503, 470, 440,
  400, 392, 350, 330, 320, 330, 360, 420, 484, 494, 460, 450,
  420, 380, 340, 320, 285, 330, 360, 470, 484, 475, 420, 400,
  390, 380, 340, 320, 310, 330, 360, 390, 440, 460, 480, 430,
  410, 394, 360, 339, 330, 340, 400, 470, 484, 480, 475, 412,
  390, 357, 330, 248, 300, 340, 380, 400, 420, 430, 410, _,
  _, _, _, 357, 330, 340, 400, 480, 470, 460, 430, 410,
  400, 380, 339, 312, 330, 370, 420, 503, 480, 475, 490, 475,
  ...N12,
  ...N12,
];
const pco2Pier = [
  ...N12,
  ...N12,
  _, _, _, _, 300, 275, 340, 430, 507, 490, 470, 440,
  420, 380, 330, 280, 257, 320, 400, 480, 521, 500, 460, 430,
  400, 370, 330, 300, 285, 300, 360, 440, 489, 480, 450, 420,
  400, 380, 350, 320, 294, 310, 350, 400, 450, 490, 521, 470,
  410, 360, 330, 310, 303, 320, 380, 430, 460, 471, 460, _,
  _, _, 340, 300, 275, 290, 330, 390, 440, 480, 512, _,
  _, 320, 307, 320, 340, 370, 410, 440, 470, 494, 480, 440,
  410, 370, 320, 253, 290, 340, 400, 460, 500, 535, 510, 470,
  430, 390, 340, 300, 285, 320, 380, 440, 490, 516, 510, 480,
  440, 400, 370, 350, 344, 360, 380, 420, 470, 500, 535, 500,
];
const pco2Off = [
  ...N12,
  _, _, _, _, 366, 350, 440, 466, 470, 455, 430, 420,
  400, 390, 370, 345, 339, 360, 420, 475, 470, 440, 430, 410,
  400, 390, 380, 366, 366, 370, 420, 460, 484, 470, 440, 420,
  410, 400, 380, 360, 348, 360, 420, 466, 460, 440, 420, 400,
  380, 370, 366, 380, 400, 440, 460, 470, 480, 507, 480, 430,
  420, 460, 410, 370, 361, 380, 420, 460, 475, 470, 450, _,
  _, _, 390, 370, 357, 365, 400, 440, 470, 480, 460, _,
  _, 421, 390, 366, 380, 420, 440, 460, 480, 490, 470, 440,
  420, 400, 370, 357, 380, 420, 460, 480, 494, 490, 494, 485,
  470, 470, 440, 420, 385, 400, 420, 440, 470, 512, 500, 480,
  470, 460, 440, 420, 375, 380, 400, 430, 460, 490, 521, 500,
];

// I: thermal pCO2
const thBrest = [
  345, 340, 345, 360, 400, 440, 470, 475, 460, 430, 390, 350,
  330, 320, 322, 335, 370, 420, 460, 484, 470, 440, 400, 350,
  325, 315, 320, 335, 365, 415, 455, 470, 460, 430, 390, 350,
  325, 318, 322, 340, 370, 420, 455, 465, 455, 425, 385, 350,
  340, 338, 340, 355, 390, 430, 470, 493, 475, 440, 400, 360,
  335, 325, 330, 345, 380, 430, 470, 493, 480, 445, 400, 360,
  345, 340, 342, 355, 390, 430, 470, 484, 470, 440, 395, 355,
  340, 340, 345, 360, 395, 440, 465, 470, 460, 430, 390, 350,
  338, 335, 340, 360, 400, 445, 480, 488, 470, 440, 395, 355,
  340, 345, 350, 365, 400, 440, 475, 484, 470, 440, 400, 360,
  ...N12,
  ...N12,
];
const thPier = [
  340, 335, 340, 355, 390, 425, 450, 455, 445, 420, 385, 350,
  325, 318, 320, 332, 365, 410, 445, 455, 450, 425, 390, 345,
  322, 312, 316, 330, 360, 405, 440, 455, 445, 420, 380, 345,
  322, 315, 318, 335, 365, 410, 440, 450, 440, 415, 380, 345,
  335, 333, 335, 350, 385, 420, 455, 470, 460, 430, 390, 355,
  330, 322, 325, 340, 375, 420, 455, 470, 462, 435, 395, 355,
  340, 335, 338, 350, 385, 420, 455, 465, 455, 430, 390, 350,
  335, 335, 340, 355, 390, 430, 450, 455, 448, 420, 385, 348,
  333, 330, 335, 355, 390, 430, 460, 468, 455, 430, 390, 350,
  335, 340, 345, 360, 395, 430, 460, 465, 455, 430, 395, 355,
  338, 333, 338, 355, 385, 425, 455, 465, 455, 425, 390, 350,
  335, 325, 330, 350, 385, 425, 450, 452, 445, 420, 390, 365,
];
const thOff = [
  375, 365, 365, 375, 405, 440, 462, 465, 455, 435, 405, 380,
  360, 350, 347, 355, 385, 430, 470, 493, 480, 455, 420, 385,
  355, 340, 338, 350, 380, 425, 460, 470, 465, 440, 410, 380,
  365, 361, 365, 375, 400, 435, 460, 465, 460, 440, 410, 380,
  365, 358, 360, 372, 400, 435, 465, 475, 470, 450, 415, 385,
  370, 365, 368, 380, 405, 440, 470, 475, 472, 455, 420, 390,
  372, 368, 370, 382, 410, 440, 465, 472, 470, 450, 420, 390,
  372, 365, 368, 380, 410, 440, 460, 468, 465, 445, 415, 385,
  370, 365, 368, 380, 410, 440, 462, 468, 465, 445, 415, 390,
  375, 370, 372, 385, 410, 440, 462, 468, 465, 445, 415, 385,
  350, 338, 345, 370, 400, 440, 470, 475, 465, 440, 410, 380,
  368, 365, 370, 385, 415, 450, 475, 488, 480, 460, 430, 400,
];

// J: non-thermal pCO2
const ntBrest = [
  _, _, _, _, _, _, 305, 287, 370, 489, 495, 500,
  500, 495, 400, 340, 320, 305, 330, 400, 470, 498, 480, 430,
  380, 340, 310, 278, 290, 330, 400, 460, 489, 498, 480, 450,
  420, 380, 340, 315, 320, 340, 380, 440, 480, 490, 480, 470,
  420, 380, 330, 300, 287, 320, 400, 470, 480, 475, 460, 430,
  400, 360, 330, 310, 287, 300, 360, 420, 440, 450, 420, 390,
  360, 340, 320, 300, 278, 320, 400, 460, 498, 489, 450, 410,
  370, 330, 300, 278, 300, 340, 380, 420, 440, 450, 430, _,
  _, _, _, 330, 320, 340, 380, 420, 440, 470, 490, 500,
  507, 489, 420, 324, 305, 330, 380, 410, 440, 480, 510, 535,
  ...N12,
  ...N12,
];
const ntPier = [
  ...N12,
  ...N12,
  _, _, _, _, 300, 265, 260, 340, 440, 500, 526, 480,
  430, 380, 330, 290, 265, 262, 300, 380, 460, 507, 500, 470,
  430, 380, 330, 290, 278, 290, 340, 410, 470, 475, 460, 430,
  400, 360, 330, 310, 290, 280, 300, 360, 430, 490, 516, 480,
  420, 370, 330, 300, 275, 269, 320, 400, 450, 470, 460, _,
  _, _, 330, 290, 262, 280, 330, 400, 450, 480, 489, _,
  _, 290, 270, 255, 280, 330, 380, 430, 470, 498, 490, 460,
  420, 370, 320, 280, 275, 300, 360, 430, 480, 507, 500, 480,
  450, 400, 340, 300, 287, 320, 380, 450, 500, 535, 520, 490,
  450, 400, 350, 315, 305, 320, 370, 440, 500, 530, 535, 515,
];
const ntOff = [
  ...N12,
  _, _, _, _, 397, 370, 360, 400, 450, 470, 472, 468,
  465, 430, 400, 370, 342, 350, 400, 460, 480, 470, 450, 430,
  410, 390, 370, 355, 351, 360, 400, 450, 470, 465, 450, 443,
  443, 420, 395, 375, 361, 370, 420, 460, 470, 465, 440, 430,
  420, 400, 385, 380, 390, 400, 410, 420, 460, 507, 500, 526,
  _, _, 380, 350, 333, 370, 420, 440, 450, 440, 430, _,
  _, _, 400, 380, 370, 390, 420, 440, 460, 470, 470, _,
  470, 470, 420, 380, 370, 380, 410, 440, 460, 470, 460, 440,
  420, 400, 380, 351, 360, 400, 430, 460, 480, 500, 515, 526,
  520, 516, 480, 440, 400, 361, 400, 450, 500, 535, 530, 500,
  480, 450, 420, 390, 370, 375, 400, 440, 480, 500, 516, 510,
];

// K: air-sea CO2 flux
const fBrest = [
  _, _, _, _, _, _, -1, 3, 7, 12, 2, 1,
  0.5, -1, -4.7, -1, -2, 1, 6, 3, 2, 3, 15.5, 1,
  0.5, -2, -17, -9, -6, -1, 1, 2, 2, 1, -1, 0.5,
  -1, -3.7, -5.6, -3, -1, 0, 2, 4, 11, 7, 5, 1,
  -0.5, -2, -13, -3, -1, 0, 2, 2, 12, 10, 1, 0,
  -0.5, -2, -3.5, -2, 0, 1, 6.5, 3.7, 2, 1, 0.5, 0,
  -1, -4.7, -2, -3.7, -6.5, -1, 0, 2, 1.5, 7.5, 11, 0.5,
  0, -1, -3.7, -7, -2, -1, 0, 1, 2, 1, 0.5, _,
  _, _, _, -1, -3, -1.5, 2, 4, 1, 0.5, 0.5, 1,
  0.5, 0, -1, -3, -6.5, -1, 1, 14, 8.4, 4, 2, 10,
  ...N12,
  ...N12,
];
const fPier = [
  ...N12,
  ...N12,
  _, _, _, _, -6, -2, 0, 2, 11, 10, 3, 0,
  9, -2, -4, -5, -2, 0, 2, 3, 8, 11, 5, 1,
  0, -1, -3, -11, -4, -1, 0, 2, 3, 4, 15.5, 2,
  1, -1, -6.5, -4, -2, 0, 2, 4, 5, 9, 5, 1,
  0, -1, -2, -4, -5, -2, 0, 2, 4, 7.5, 6, _,
  _, _, -1, -5, -8, -10, -2, 0, 1, 2, 7, _,
  _, 0, -4, -3, -2, -1, 0, 1, 1, 1, 0.5, 1,
  0.5, 0, -1, -7, -5, -1, 0, 2, 3.5, 2, 1, 1,
  1, 0, -2, -3, -4.7, -1, -1, 0, 2, 3, 1, 1,
  2, 4.7, 1, -2, -3.3, -3, -1, 0, 1, 2, 3, 2,
];
const fOff = [
  ...N12,
  _, _, _, _, -0.5, -3.7, 2, 4, 4, 6, 9, 1,
  0.5, -3, -2, -3, -1, 0, 2, 7.5, 8.5, 3, 1, 0.5,
  0.5, -1, -1, -2, -1, 0, 1, 2, 5, 5, 3, 1,
  1, 0, -1, -6.5, -1, 0, 1, 3, 4.5, 4, 2, 1,
  1, -1, -3, -6, -1, 0, 1, 3, 4, 7.5, 3, 2,
  4.2, 1, -1, -2, -3, -1, 1, 2, 3, 3.5, 2, _,
  _, _, -1, -2.3, -2, -1.5, 0, 1, 2, 5, 12, _,
  _, 2, 1, -1, -1, 0, 0.5, 1, 2, 6.5, 2, 1,
  1, 0, -1, -3.3, -1, 0.5, 2, 4, 3, 2.5, 2, 2,
  2, 1, 0, -1, -1, 0, 13.5, 12, 9, 3, 4, 3,
  4.5, 3, -1, -1.5, -1.5, -2, -1, 1, 9.3, 11.7, 3, 11.7,
];

// ---------- panel layout ----------
type Ser = { name: string; color: string; data: (number | null)[] };
type RowSpec = {
  letter: string;
  letterY: number;
  top: number;
  min: number;
  max: number;
  ticks: number[];
  clim: Ser[];
  ts: Ser[];
  atm?: { clim: number[]; base: number[]; peak: number[] };
  ref?: { value: number; left: string; right: string };
};

const three = (b: any, p: any, o: any): Ser[] => [
  { name: BREST, color: ORANGE, data: b },
  { name: PIER, color: LIGHT, data: p },
  { name: OFF, color: BLUE, data: o },
];

const rows: RowSpec[] = [
  { letter: "A", letterY: 24, top: 19, min: 2200, max: 2400, ticks: [2200, 2300, 2400],
    clim: three(taClimBrest, taClimPier, taClimOff), ts: three(taBrest, taPier, taOff) },
  { letter: "B", letterY: 147, top: 147, min: 2000, max: 2200, ticks: [2000, 2100, 2200],
    clim: three(dicClimBrest, dicClimPier, dicClimOff), ts: three(dicBrest, dicPier, dicOff) },
  { letter: "C", letterY: 275, top: 275, min: 7.933, max: 8.25, ticks: [8, 8.1, 8.2],
    clim: three(phClimBrest, phClimPier, phClimOff), ts: three(phBrest, phPier, phOff) },
  { letter: "D", letterY: 410, top: 403, min: 7.755, max: 8.05, ticks: [7.8, 7.9, 8],
    clim: three(p25ClimBrest, p25ClimPier, p25ClimOff), ts: three(p25Brest, p25Pier, p25Off) },
  { letter: "E", letterY: 535, top: 531, min: 2250, max: 2450, ticks: [2250, 2350, 2450],
    clim: three(ntaClimBrest, ntaClimPier, ntaClimOff), ts: three(ntaBrest, ntaPier, ntaOff) },
  { letter: "F", letterY: 665, top: 659, min: 2000, max: 2250, ticks: [2000, 2100, 2200],
    clim: three(ndicClimBrest, ndicClimPier, ndicClimOff), ts: three(ndicBrest, ndicPier, ndicOff) },
  { letter: "G", letterY: 775, top: 787, min: 0, max: 5, ticks: [0, 1, 2, 3, 4, 5],
    clim: [...three(calClimBrest, calClimPier, calClimOff), ...three(aragClimBrest, aragClimPier, aragClimOff)],
    ts: [...three(calBrest, calPier, calOff), ...three(aragBrest, aragPier, aragOff)],
    ref: { value: 1, left: "dashed", right: "dotted" } },
  { letter: "H", letterY: 925, top: 915, min: 240, max: 535, ticks: [300, 400, 500],
    clim: three(pco2ClimBrest, pco2ClimPier, pco2ClimOff), ts: three(pco2Brest, pco2Pier, pco2Off),
    atm: { clim: pco2ClimAtm, base: atmBase, peak: atmPeak } },
  { letter: "I", letterY: 1033, top: 1043, min: 240, max: 535, ticks: [300, 400, 500],
    clim: three(thClimBrest, thClimPier, thClimOff), ts: three(thBrest, thPier, thOff),
    atm: { clim: thClimAtm, base: atmBaseTherm, peak: atmPeak } },
  { letter: "J", letterY: 1172, top: 1171, min: 240, max: 535, ticks: [300, 400, 500],
    clim: three(ntClimBrest, ntClimPier, ntClimOff), ts: three(ntBrest, ntPier, ntOff),
    atm: { clim: ntClimAtm, base: atmBase, peak: atmPeak } },
  { letter: "K", letterY: 1302, top: 1299, min: -15, max: 15, ticks: [-10, 0, 10],
    clim: three(fClimBrest, fClimPier, fClimOff), ts: three(fBrest, fPier, fOff),
    ref: { value: 0, left: "solid", right: "solid" } },
];

const unitKg = "{u|μmol kg}{up|-1}";
const titles = [
  { x: 55, y: 67, text: "{m|TA}" },
  { x: 80, y: 77, text: unitKg },
  { x: 55, y: 197, text: "{m|DIC}" },
  { x: 80, y: 203, text: unitKg },
  { x: 57, y: 328, text: "{m|pH}{si|in-situ}" },
  { x: 57, y: 456, text: "{m|pH}{s|25°C}" },
  { x: 55, y: 588, text: "{m|nTA}" },
  { x: 80, y: 588, text: unitKg },
  { x: 55, y: 709, text: "{m|nDIC}" },
  { x: 80, y: 710, text: unitKg },
  { x: 57, y: 837, text: "{m|Ω}{s|Arag}{m| Ω}{s|Cal}" },
  { x: 57, y: 962, text: "{m|pCO}{s|2}" },
  { x: 80, y: 962, text: "{u|μatm}" },
  { x: 58, y: 1118, text: "{m|pCO}" },
  { x: 64, y: 1093, text: "{b|2}" },
  { x: 49, y: 1066, text: "{p|therm}" },
  { x: 80, y: 1091, text: "{u|μatm}" },
  { x: 58, y: 1272, text: "{m|pCO}" },
  { x: 64, y: 1251, text: "{b|2}" },
  { x: 49, y: 1204, text: "{p|non-therm}" },
  { x: 80, y: 1229, text: "{u|μatm}" },
  { x: 57, y: 1367, text: "{m|FCO}{s|2}" },
  { x: 80, y: 1365, text: "{u|mmol C m}{up|-2}{u| d}{up|-1}" },
];

const stars = [
  { x: 679, y: 135 },
  { x: 809, y: 135 },
  { x: 423, y: 1299 },
  { x: 608, y: 1299 },
  { x: 446, y: 1412 },
];

const RICH = {
  m: { fontSize: 20, fontWeight: "bold", fontFamily: FONT, fill: "#000", lineHeight: 26 },
  s: { fontSize: 14, fontWeight: "bold", fontFamily: FONT, fill: "#000", lineHeight: 12, verticalAlign: "bottom" },
  si: { fontSize: 14, fontWeight: "bold", fontStyle: "italic", fontFamily: FONT, fill: "#000", lineHeight: 12, verticalAlign: "bottom" },
  b: { fontSize: 14, fontWeight: "bold", fontFamily: FONT, fill: "#000" },
  p: { fontSize: 16, fontWeight: "bold", fontFamily: FONT, fill: "#000" },
  u: { fontSize: 15, fontStyle: "italic", fontFamily: FONT, fill: "#000", lineHeight: 20 },
  up: { fontSize: 10, fontStyle: "italic", fontFamily: FONT, fill: "#000", lineHeight: 10, verticalAlign: "top" },
};

const LABEL = { fontSize: 15, color: "#262626", fontFamily: FONT, formatter: (v: number) => String(v) };

const monthPos = (i: number) => 2008 + (i + 0.5) / 12;
const toTs = (arr: (number | null)[]) => arr.map((v, i) => [monthPos(i), v]);
const toClim = (arr: number[]) => arr.map((v, i) => [months[i], v]);
const toAtm = (base: number[], peak: number[]) =>
  base.flatMap((v, i) => [
    [2008 + (i + 0.25) / 12, v],
    [2008 + (i + 0.75) / 12, peak[i]],
  ]);

const line = (name: string, color: string, data: any[], g: number, big: boolean) => ({
  type: "line",
  name,
  data,
  xAxisIndex: 2 * g,
  yAxisIndex: 2 * g,
  symbol: "circle",
  symbolSize: big ? 6.5 : 3,
  showSymbol: true,
  showAllSymbol: true,
  connectNulls: false,
  clip: true,
  silent: true,
  animation: false,
  emphasis: { disabled: true },
  lineStyle: { color, width: big ? 2.6 : 1 },
  itemStyle: { color },
});

function buildOption() {
  const grid: any[] = [];
  const xAxis: any[] = [];
  const yAxis: any[] = [];
  const series: any[] = [];
  const graphic: any[] = [];

  rows.forEach((row, r) => {
    const last = r === rows.length - 1;
    [true, false].forEach((isLeft) => {
      const g = grid.length;
      grid.push({
        left: isLeft ? 160 : 308,
        top: row.top,
        width: isLeft ? 135 : 739,
        height: 107,
        show: true,
        borderColor: BOX,
        borderWidth: 1,
        backgroundColor: "transparent",
      });
      ["bottom", "top"].forEach((pos) =>
        xAxis.push({
          gridIndex: g,
          type: "value",
          position: pos,
          min: isLeft ? 1 : 2008,
          max: isLeft ? 12 : 2020,
          axisLine: { show: false },
          splitLine: { show: false },
          axisTick: { show: true, inside: true, length: 5, lineStyle: { color: TICK }, customValues: isLeft ? monthTicks : yearTicks },
          axisLabel: { show: pos === "bottom" && last, customValues: isLeft ? monthLabels : yearTicks, margin: 8, ...LABEL },
        })
      );
      ["left", "right"].forEach((pos) =>
        yAxis.push({
          gridIndex: g,
          type: "value",
          position: pos,
          min: row.min,
          max: row.max,
          axisLine: { show: false },
          splitLine: { show: false },
          axisTick: { show: true, inside: true, length: isLeft ? 4 : 6, lineStyle: { color: TICK }, customValues: row.ticks },
          axisLabel: { show: isLeft && pos === "left", customValues: row.ticks, margin: 7, ...LABEL },
        })
      );

      const first = series.length;
      if (isLeft) {
        if (row.atm) series.push(line(ATM, BLACK, toClim(row.atm.clim), g, true));
        row.clim.forEach((s) => series.push(line(s.name, s.color, toClim(s.data as number[]), g, true)));
      } else {
        // atmospheric band sits underneath the sea-water series
        if (row.atm) {
          series.push({
            ...line(ATM, BLACK, toAtm(row.atm.base, row.atm.peak), g, false),
            symbol: "rect",
            symbolSize: 3,
            lineStyle: { color: BLACK, width: 3.4 },
          });
        }
        row.ts.forEach((s) => series.push(line(s.name, s.color, toTs(s.data), g, false)));
      }
      if (row.ref) {
        series[first].markLine = {
          silent: true,
          animation: false,
          symbol: ["none", "none"],
          label: { show: false },
          lineStyle: { color: BLACK, width: 1, type: isLeft ? row.ref.left : row.ref.right },
          data: [{ yAxis: row.ref.value }],
        };
      }
    });

    graphic.push({
      type: "text",
      x: 20,
      y: row.letterY,
      style: { text: row.letter, fontSize: 20, fontWeight: "bold", fontFamily: FONT, fill: "#000", align: "center", verticalAlign: "middle" },
    });
  });

  titles.forEach((t) =>
    graphic.push({
      type: "text",
      x: t.x,
      y: t.y,
      rotation: Math.PI / 2,
      style: { text: t.text, rich: RICH, align: "center", verticalAlign: "middle", fill: "#000", fontFamily: FONT },
    })
  );
  stars.forEach((s) =>
    graphic.push({
      type: "text",
      x: s.x,
      y: s.y,
      style: { text: "*", fontSize: 16, fontFamily: FONT, fill: "#000", align: "center", verticalAlign: "middle" },
    })
  );
  graphic.push({
    type: "text",
    x: 229,
    y: 1446,
    style: { text: "Month of the year", fontSize: 17, fontFamily: FONT, fill: "#1a1a1a", align: "center", verticalAlign: "middle" },
  });
  graphic.push({
    type: "text",
    x: 675,
    y: 1446,
    style: { text: "Year", fontSize: 17, fontFamily: FONT, fill: "#1a1a1a", align: "center", verticalAlign: "middle" },
  });

  return {
    animation: false,
    backgroundColor: "#ffffff",
    grid,
    xAxis,
    yAxis,
    series,
    graphic,
    legend: {
      data: [ATM, BREST, PIER, OFF],
      left: 358,
      top: 1476,
      itemWidth: 38,
      itemHeight: 10,
      itemGap: 8,
      padding: [2, 8, 2, 4],
      borderColor: "#404040",
      borderWidth: 1,
      backgroundColor: "#ffffff",
      selectedMode: false,
      textStyle: { fontSize: 16, color: "#000", fontFamily: FONT },
    },
  };
}

const App = () => {
  const chartRef = useRef<HTMLDivElement>(null);

  useEffect(() => {
    if (!chartRef.current) return;
    const chart = echarts.init(chartRef.current, undefined, { renderer: "svg" });
    chart.setOption(buildOption() as any);
    return () => {
      chart.dispose();
    };
  }, []);

  return (
    <div
      ref={chartRef}
      style={{ position: "absolute", left: 0, top: 0, width: 1067, height: 1499, background: "#fff" }}
    />
  );
};

export default App;
